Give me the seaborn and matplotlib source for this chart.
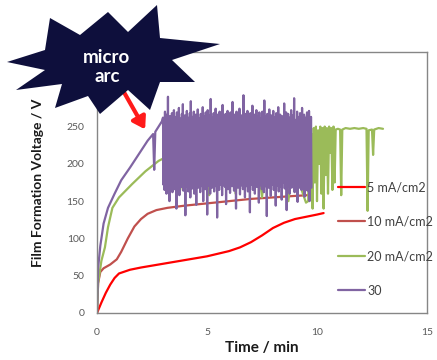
import numpy as np
import pandas as pd
import matplotlib
matplotlib.use("Agg")
import matplotlib.pyplot as plt
from matplotlib.patches import Polygon
import seaborn as sns

sns.set_style("white")
plt.rcParams['font.family'] = ['Lato', 'DejaVu Sans']

# ---- data (time in min, voltage in V) ----
t_5 = [0, 0.2, 0.4, 0.6, 0.8, 1.0, 1.5, 2.0, 3.0, 4.0, 5.0, 6.0, 6.5,
       7.0, 7.5, 8.0, 8.5, 9.0, 9.5, 10.0, 10.3]
v_5 = [0, 14, 27, 38, 47, 53, 58, 61, 66, 71, 76, 83, 88,
       95, 104, 114, 121, 126, 129, 132, 134]

t_10 = [0, 0.05, 0.15, 0.3, 0.6, 0.9, 1.1, 1.4, 1.7, 2.0, 2.3, 2.7, 3.2,
        4.0, 5.0, 6.0, 7.0, 8.0, 9.0, 9.6]
v_10 = [0, 40, 55, 60, 65, 72, 82, 100, 116, 126, 133, 138, 141,
        144, 147, 150, 153, 155, 157, 158]

# 20 mA/cm2: smooth rise, then fluctuating (mostly hidden by the 30 series)
t_20 = [0, 0.05, 0.2, 0.36, 0.5, 0.7, 1.0, 1.6, 2.2, 2.8, 3.0,
        3.3, 3.6, 3.9, 4.2, 4.5, 4.8, 5.1, 5.4, 5.7, 6.0, 6.3, 6.6, 6.9,
        7.2, 7.5, 7.8, 8.1, 8.4, 8.7, 9.0, 9.3, 9.5,
        9.6, 9.65, 9.7, 9.75, 9.8, 9.85, 9.9, 9.95, 10.0, 10.05, 10.1, 10.15,
        10.2, 10.25, 10.3, 10.35, 10.4, 10.45, 10.5, 10.55, 10.6, 10.65,
        10.7, 10.75, 10.8, 10.85, 10.95, 11.05, 11.1, 11.15, 11.3, 11.5,
        11.7, 11.9, 12.1, 12.25, 12.3, 12.35, 12.5, 12.55, 12.6, 12.8, 13.0]
v_20 = [0, 40, 70, 88, 115, 141, 155, 173, 190, 204, 207,
        160, 230, 165, 240, 170, 235, 158, 242, 175, 238, 160, 245, 168,
        236, 155, 240, 172, 244, 150, 238, 165, 148,
        150, 245, 160, 240, 140, 248, 175, 250, 150, 245, 200, 250,
        160, 248, 140, 250, 185, 248, 160, 250, 215, 248,
        165, 250, 175, 246, 247, 246, 158, 246, 248, 247,
        248, 247, 248, 247, 137, 245, 246, 212, 246, 248, 247]

# 30: smooth rise then micro-arc oscillation
t_30a = [0, 0.05, 0.15, 0.3, 0.5, 0.8, 1.1, 1.5, 1.9, 2.3, 2.55, 2.6, 2.65, 2.95]
v_30a = [0, 60, 90, 120, 141, 160, 178, 195, 213, 231, 240, 192, 243, 257]
v_30_arc = [
    262, 172, 258, 165, 270, 178, 255, 160, 266, 175, 290, 168, 260, 150, 264, 176, 252, 170, 268, 162,
    259, 178, 272, 166, 256, 174, 263, 140, 269, 171, 257, 168, 275, 158, 261, 177, 254, 169, 267, 173,
    280, 164, 258, 176, 265, 131, 253, 170, 271, 175, 262, 163, 257, 178, 268, 155, 284, 172, 256, 167,
    263, 176, 270, 160, 255, 171, 266, 145, 259, 178, 273, 168, 261, 174, 252, 162, 267, 177, 258, 170,
    276, 150, 264, 175, 256, 166, 269, 178, 260, 132, 272, 171, 254, 176, 265, 160, 287, 173, 257, 168,
    262, 177, 268, 163, 255, 174, 274, 170, 259, 128, 266, 178, 253, 165, 270, 172, 261, 176, 257, 158,
    279, 171, 263, 177, 256, 169, 267, 146, 258, 175, 271, 166, 264, 178, 252, 161, 269, 173, 260, 170,
    283, 176, 257, 164, 266, 172, 255, 140, 270, 177, 261, 168, 259, 175, 274, 159, 254, 171, 265, 178,
    262, 166, 292, 174, 258, 155, 267, 177, 256, 170, 271, 163, 260, 176, 253, 135, 268, 172, 263, 178,
    278, 165, 255, 173, 266, 160, 259, 177, 272, 169, 257, 175, 264, 148, 269, 171, 254, 178, 261, 166,
    270, 174, 258, 162, 285, 177, 263, 170, 256, 130, 267, 175, 260, 168, 273, 178, 255, 157, 265, 172,
    259, 176, 271, 165, 262, 178, 257, 144, 268, 171, 253, 174, 276, 163, 261, 177, 266, 169, 258, 152,
    264, 175, 256, 178, 281, 167, 260, 172, 269, 138, 255, 176, 267, 170, 262, 160, 258, 177, 272, 168,
    257, 174, 265, 178, 288, 162, 259, 171, 254, 175, 270, 149, 263, 177, 256, 168, 268, 173, 261, 165,
    275, 178, 258, 170, 266, 156, 262, 176, 253, 172, 269, 164, 260, 177, 271, 150, 256, 174, 263, 168,
]
t_30_arc = np.linspace(3.0, 9.75, len(v_30_arc))

labels = ["5 mA/cm2", "10 mA/cm2", "20 mA/cm2", "30"]
colors = ["#ff0000", "#c0504d", "#9bbb59", "#8064a2"]

t_30 = list(t_30a) + list(t_30_arc)
v_30 = list(v_30a) + list(v_30_arc)

frames = []
for lab, t, v in zip(labels, [t_5, t_10, t_20, t_30], [v_5, v_10, v_20, v_30]):
    frames.append(pd.DataFrame({"Time": t, "Voltage": v, "series": lab}))
df = pd.concat(frames, ignore_index=True)

fig = plt.figure(figsize=(4.37, 3.6), dpi=100)
ax = fig.add_axes([97 / 437, 47 / 360, 330 / 437, 261 / 360])

sns.lineplot(data=df, x="Time", y="Voltage", hue="series", hue_order=labels,
             palette=colors, sort=False, estimator=None, units="series",
             linewidth=1.6, ax=ax)

ax.set_xlim(0, 15)
ax.set_ylim(0, 350)
ax.set_xticks([0, 5, 10, 15])
ax.set_yticks(range(0, 351, 50))
ax.set_xlabel("Time / min", fontsize=11, fontweight="bold", color="#1a1a1a", labelpad=3)
ax.set_ylabel("Film Formation Voltage / V", fontsize=10, fontweight="bold",
              color="#1a1a1a", labelpad=16)
ax.tick_params(axis="x", direction="in", length=3, color="#868686",
               labelsize=7.5, labelcolor="#595959", pad=11)
ax.tick_params(axis="y", direction="out", length=3, color="#868686",
               labelsize=7.5, labelcolor="#595959", pad=6)
for s in ax.spines.values():
    s.set_color("#868686")
    s.set_linewidth(1.0)

leg = ax.legend(loc="upper left", bbox_to_anchor=(0.73, 0.505), frameon=False,
                fontsize=9, handlelength=2.2, handletextpad=0.15,
                labelspacing=1.8, borderpad=0, borderaxespad=0)
for txt in leg.get_texts():
    txt.set_color("#404040")

# red arrow pointing to the micro-arc onset
ax.annotate("", xy=(2.25, 243), xytext=(1.15, 300), annotation_clip=False,
            arrowprops=dict(arrowstyle="-|>,head_width=0.45,head_length=0.7",
                            color="#ff1a1a", lw=3))

# dark starburst with label (figure pixel coords, y from top)
star_px = [(7, 62), (45, 50), (50, 18), (80, 35), (108, 12), (128, 32),
           (157, 5), (160, 38), (220, 44), (172, 60), (195, 82), (160, 82),
           (150, 110), (128, 90), (100, 114), (88, 96), (55, 108), (62, 84),
           (16, 90), (45, 70)]
star = Polygon([(x / 437, 1 - y / 360) for x, y in star_px], closed=True,
               transform=fig.transFigure, facecolor="#0e0f3c", edgecolor="none",
               zorder=10)
fig.add_artist(star)
fig.text(107 / 437, 1 - 67 / 360, "micro\narc", ha="center", va="center",
         color="white", fontsize=13.5, fontweight="bold", linespacing=1.1, zorder=11)

fig.savefig("out.png", dpi=100)
